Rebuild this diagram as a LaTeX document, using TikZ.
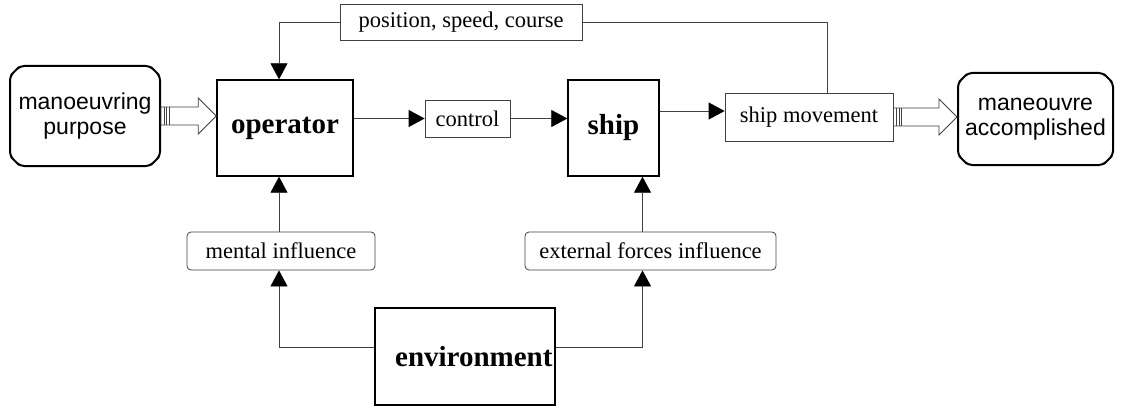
\documentclass[tikz,border=0pt]{standalone}
\usepackage{fontspec}
\setmainfont{Liberation Serif}
\newfontfamily\arialfont{Liberation Sans}
\usetikzlibrary{arrows.meta,shapes.misc,calc}

\newcommand\hollowarrow[2]{%
  \draw[hollow] let \p1=(#1), \p2=(#2) in
    (\x1,\y1+9pt) -- (\x2-18pt,\y1+9pt) -- (\x2-18pt,\y1+18pt) -- (\x2,\y1)
    -- (\x2-18pt,\y1-18pt) -- (\x2-18pt,\y1-9pt) -- (\x1,\y1-9pt) -- cycle;
  \foreach \d in {3,5.5,8}
    \draw[hollow] let \p1=(#1) in (\x1+\d pt,\y1+9pt) -- (\x1+\d pt,\y1-9pt);
}

\begin{document}
\begin{tikzpicture}[x=1pt,y=-1pt,
    box/.style={draw, line width=1.4pt, inner sep=0pt,
      font=\fontsize{29}{33}\selectfont\bfseries},
    lab/.style={draw=black!75, line width=0.8pt, inner sep=0pt,
      font=\fontsize{22.5}{26}\selectfont},
    goal/.style={draw, chamfered rectangle, chamfered rectangle xsep=5pt,
      chamfered rectangle ysep=5pt, rounded corners=4pt, line width=2pt,
      inner sep=0pt, align=center, font=\arialfont\fontsize{23}{24.5}\selectfont},
    line/.style={draw=black!75, line width=0.8pt},
    arr/.style={line, -{Triangle[length=16pt,width=17pt,color=black]}},
    hollow/.style={draw=black!75, line width=0.8pt, fill=white}]

    \useasboundingbox (0,0) rectangle (1121,409);

    \node[goal, minimum width=150pt, minimum height=100pt] (purpose) at (85,116) {manoeuvring\\purpose};
    \node[box, minimum width=136pt, minimum height=96pt] (operator) at (285,128) {operator};
    \node[lab, minimum width=85pt, minimum height=37pt] (control) at (467.5,118.5) {control};
    \node[box, minimum width=91pt, minimum height=96pt] (ship) at (613.5,128) {ship};
    \node[lab, minimum width=168pt, minimum height=48pt] (shipmove) at (809,117) {ship movement};
    \node[goal, minimum width=155pt, minimum height=92pt] (done) at (1035.5,119) {maneouvre\\accomplished};
    \node[lab, minimum width=242pt, minimum height=36pt] (state) at (461,22) {position, speed, course};
    \node[lab, rounded corners=4pt, minimum width=188pt, minimum height=38pt] (mental) at (281,251) {mental influence};
    \node[lab, rounded corners=4pt, minimum width=251pt, minimum height=38pt] (forces) at (650.5,251) {external forces influence};
    \node[box, minimum width=180pt, minimum height=97pt, text width=175pt, align=right] (env) at (465,356.5) {environment};

    \hollowarrow{purpose.east}{operator.west}
    \hollowarrow{shipmove.east}{done.west}

    \draw[arr] (control.west -| operator.east) -- (control.west);
    \draw[arr] (control.east) -- (control.east -| ship.west);
    \draw[arr] ([yshift=6pt]shipmove.west -| ship.east) -- ([yshift=6pt]shipmove.west);
    \draw[line] ([xshift=18pt]shipmove.north) |- (state.east);
    \draw[arr] (state.west) -| ([xshift=-6pt]operator.north);
    \draw[arr] ([xshift=-2pt]mental.north) -- ([xshift=-2pt]mental.north |- operator.south);
    \draw[arr] ([xshift=-8pt]forces.north) -- ([xshift=-8pt]forces.north |- ship.south);
    \draw[arr] ([yshift=9pt]env.west) -| ([xshift=-2pt]mental.south);
    \draw[arr] ([yshift=9pt]env.east) -| ([xshift=-8pt]forces.south);
\end{tikzpicture}
\end{document}
